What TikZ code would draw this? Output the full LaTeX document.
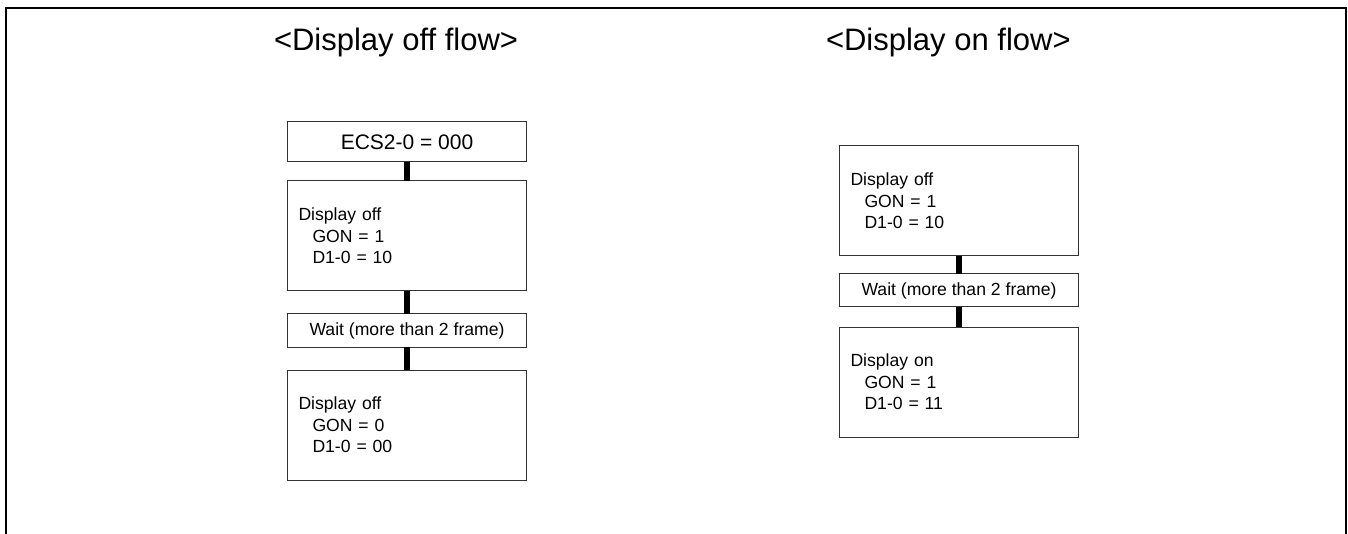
\documentclass[tikz,border=0pt]{standalone}
\usepackage{fontspec}
\setmainfont{Liberation Sans}
\usepackage{tikz}
\usetikzlibrary{positioning}
\definecolor{boxline}{RGB}{50,50,50}

\begin{document}
\begin{tikzpicture}[x=1pt, y=-1pt,
  every node/.style={inner sep=0pt, outer sep=0pt},
  flowtitle/.style={anchor=base west, font=\fontsize{31}{37}\selectfont},
  regbox/.style={draw=boxline, line width=1pt, minimum width=239pt, minimum height=40pt,
    font=\fontsize{21}{25}\selectfont},
  stepbox/.style={draw=boxline, line width=1pt, minimum height=110pt, text width=217pt,
    inner xsep=11pt, align=left, font=\fontsize{17.6}{21.3}\selectfont},
  waitbox/.style={draw=boxline, line width=1pt, minimum width=239pt, minimum height=33pt,
    font=\fontsize{17.6}{21}\selectfont},
  link/.style={line width=6pt, black}]
\useasboundingbox (0,0) rectangle (1348,534);
% outer frame (open at the bottom)
\draw[line width=2.2pt] (6,534) -- (6,8) -- (1346,8) -- (1346,534);
% titles
\node[flowtitle] (offtitle) at (274,51) {<Display off flow>};
\node[flowtitle] (ontitle) at (826,51) {<Display on flow>};
% display off flow
\node[regbox] (ecs) at (407,142) {ECS2-0 = 000};
\node[stepbox] (offone) at (407,236) {Display off\\\hspace*{14pt}GON = 1\\\hspace*{14pt}D1-0 = 10};
\node[waitbox] (waitoff) at (407,330.5) {Wait (more than 2 frame)};
\node[stepbox] (offtwo) at (407,425) {Display off\\\hspace*{14pt}GON = 0\\\hspace*{14pt}D1-0 = 00};
\draw[link] (ecs) -- (offone);
\draw[link] (offone) -- (waitoff);
\draw[link] (waitoff) -- (offtwo);
% display on flow
\node[stepbox] (onoff) at (959,201) {Display off\\\hspace*{14pt}GON = 1\\\hspace*{14pt}D1-0 = 10};
\node[waitbox] (waiton) at (959,290.5) {Wait (more than 2 frame)};
\node[stepbox] (onon) at (959,382) {Display on\\\hspace*{14pt}GON = 1\\\hspace*{14pt}D1-0 = 11};
\draw[link] (onoff) -- (waiton);
\draw[link] (waiton) -- (onon);
\end{tikzpicture}
\end{document}
